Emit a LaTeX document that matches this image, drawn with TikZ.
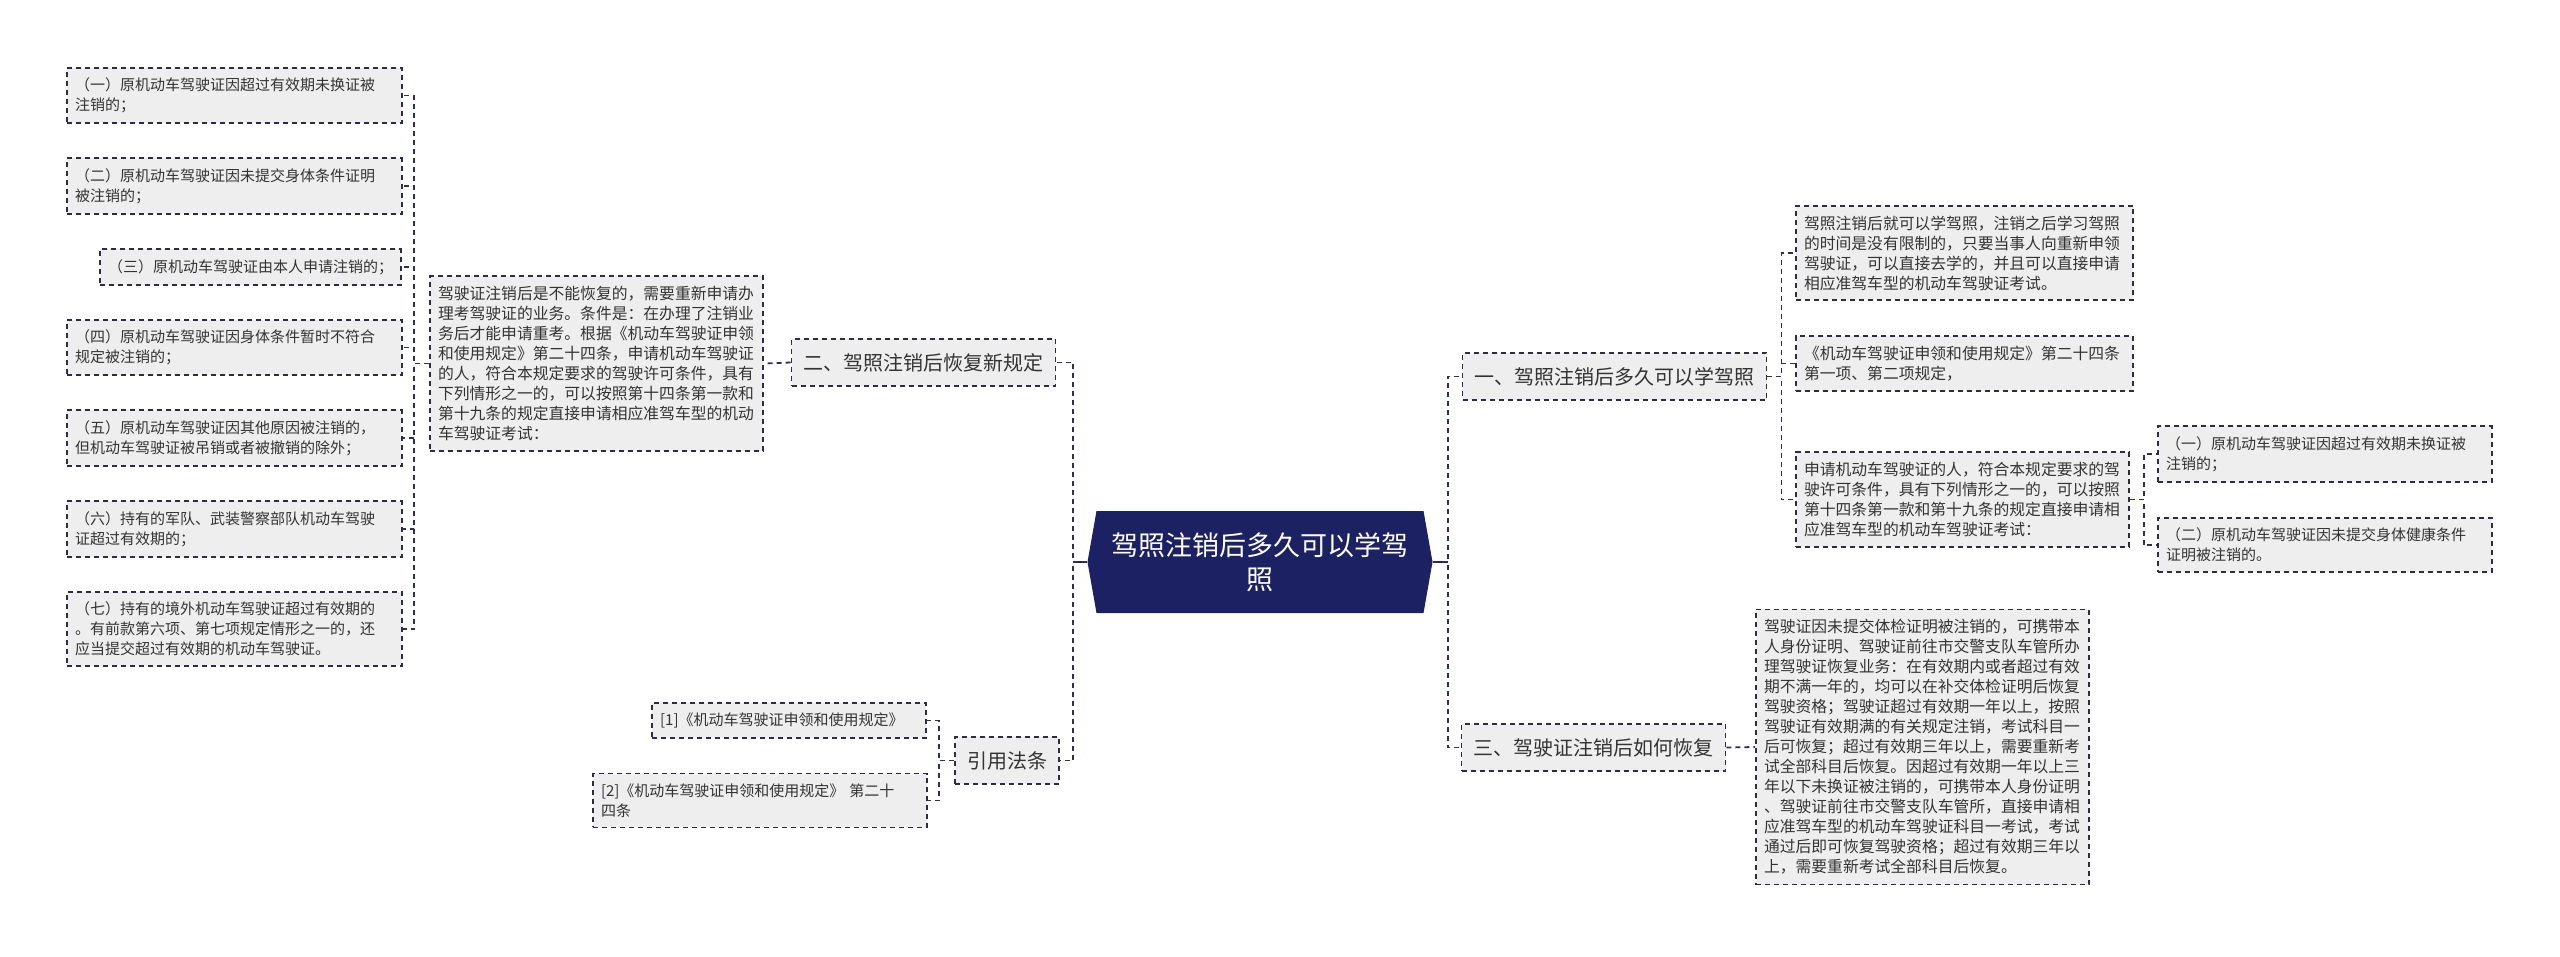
\documentclass[tikz,border=0pt]{standalone}
\usepackage{fontspec}
\setmainfont{Noto Sans CJK SC}
\usetikzlibrary{shapes.symbols}

\definecolor{rootblue}{HTML}{1B2162}
\definecolor{linkblue}{HTML}{2A2F5E}
\definecolor{boxline}{HTML}{2C2C48}
\definecolor{leafgray}{HTML}{EEEEEE}
\definecolor{inkgray}{HTML}{333333}

\tikzset{
Root/.style={signal, signal to=east and west, signal pointer angle=160, fill=rootblue, text=white,
        font=\fontsize{27}{34}\selectfont, align=center, inner sep=0pt, minimum width=345pt, minimum height=102pt},
Branch/.style={draw=boxline, fill=leafgray, dash pattern=on 5pt off 4pt, line width=1.8pt, text=inkgray,
        font=\fontsize{20}{24}\selectfont, inner xsep=12pt, minimum height=47pt},
Leaf/.style={draw=boxline, fill=leafgray, dash pattern=on 5pt off 4pt, line width=1.8pt, text=inkgray,
        font=\fontsize{15.8}{20}\selectfont, align=left, inner xsep=8pt, inner ysep=10pt},
LeafW/.style={Leaf, text width=#1},
Item/.style={Leaf, font=\fontsize{15}{20}\selectfont},
ItemW/.style={Item, text width=#1},
Link/.style={draw=linkblue, line width=1.8pt, dash pattern=on 5pt off 4pt},
Stem/.style={draw=rootblue, line width=1.8pt},
}

\begin{document}
\begin{tikzpicture}[x=1pt,y=-1pt]
	\useasboundingbox (0,0) rectangle (2560,956);
	% centre
	\node[Root] (root) at (1260,562) {驾照注销后多久可以学驾\\照};

	% left side
	\node[Branch] (b2) at (923.5,362.5) {二、驾照注销后恢复新规定};
	\node[LeafW=317pt] (d2) at (596.5,363.5) {驾驶证注销后是不能恢复的，需要重新申请办\\理考驾驶证的业务。条件是：在办理了注销业\\务后才能申请重考。根据《机动车驾驶证申领\\和使用规定》第二十四条，申请机动车驾驶证\\的人，符合本规定要求的驾驶许可条件，具有\\下列情形之一的，可以按照第十四条第一款和\\第十九条的规定直接申请相应准驾车型的机动\\车驾驶证考试：};
	\node[ItemW=319pt] (L1) at (234.5,95.5) {（一）原机动车驾驶证因超过有效期未换证被\\注销的；};
	\node[ItemW=319pt] (L2) at (234.5,186) {（二）原机动车驾驶证因未提交身体条件证明\\被注销的；};
	\node[Item, anchor=east] (L3) at (402,267) {（三）原机动车驾驶证由本人申请注销的；};
	\node[ItemW=319pt] (L4) at (234.5,347.5) {（四）原机动车驾驶证因身体条件暂时不符合\\规定被注销的；};
	\node[ItemW=319pt] (L5) at (234.5,438) {（五）原机动车驾驶证因其他原因被注销的，\\但机动车驾驶证被吊销或者被撤销的除外；};
	\node[ItemW=319pt] (L6) at (234.5,529) {（六）持有的军队、武装警察部队机动车驾驶\\证超过有效期的；};
	\node[ItemW=319pt] (L7) at (234.5,629) {（七）持有的境外机动车驾驶证超过有效期的\\。有前款第六项、第七项规定情形之一的，还\\应当提交超过有效期的机动车驾驶证。};

	\node[Branch] (cite) at (1007,760.5) {引用法条};
	\node[ItemW=258pt, anchor=east] (R1) at (927,720.5) {[1]《机动车驾驶证申领和使用规定》};
	\node[ItemW=318pt] (R2) at (760,800.5) {[2]《机动车驾驶证申领和使用规定》 第二十\\四条};

	% right side
	\node[Branch] (b1) at (1614.5,376.5) {一、驾照注销后多久可以学驾照};
	\node[LeafW=321pt] (c1a) at (1964.5,253) {驾照注销后就可以学驾照，注销之后学习驾照\\的时间是没有限制的，只要当事人向重新申领\\驾驶证，可以直接去学的，并且可以直接申请\\相应准驾车型的机动车驾驶证考试。};
	\node[LeafW=321pt] (c1b) at (1964.5,363.5) {《机动车驾驶证申领和使用规定》第二十四条\\第一项、第二项规定，};
	\node[LeafW=317pt] (c1c) at (1962.5,499.5) {申请机动车驾驶证的人，符合本规定要求的驾\\驶许可条件，具有下列情形之一的，可以按照\\第十四条第一款和第十九条的规定直接申请相\\应准驾车型的机动车驾驶证考试：};
	\node[ItemW=318pt] (c1c1) at (2325,454) {（一）原机动车驾驶证因超过有效期未换证被\\注销的；};
	\node[ItemW=318pt] (c1c2) at (2325,545) {（二）原机动车驾驶证因未提交身体健康条件\\证明被注销的。};

	\node[Branch] (b3) at (1593.5,747.5) {三、驾驶证注销后如何恢复};
	\node[LeafW=317pt] (c3a) at (1922.5,747) {驾驶证因未提交体检证明被注销的，可携带本\\人身份证明、驾驶证前往市交警支队车管所办\\理驾驶证恢复业务：在有效期内或者超过有效\\期不满一年的，均可以在补交体检证明后恢复\\驾驶资格；驾驶证超过有效期一年以上，按照\\驾驶证有效期满的有关规定注销，考试科目一\\后可恢复；超过有效期三年以上，需要重新考\\试全部科目后恢复。因超过有效期一年以上三\\年以下未换证被注销的，可携带本人身份证明\\、驾驶证前往市交警支队车管所，直接申请相\\应准驾车型的机动车驾驶证科目一考试，考试\\通过后即可恢复驾驶资格；超过有效期三年以\\上，需要重新考试全部科目后恢复。};

	% connectors
	\draw[Stem] (root.east) -- ++(15,0);
	\draw[Stem] (root.west) -- ++(-14,0);
	\foreach \b in {b1,b3}
		\draw[Link] (root.east) -- ++(15,0) |- (\b.west);
	\foreach \b in {b2,cite}
		\draw[Link] (root.west) -- ++(-14,0) |- (\b.east);
	\draw[Link] (b2.west) -- (d2.east);
	\foreach \i in {1,...,7}
		\draw[Link] (d2.west) -- ++(-15,0) |- (L\i.east);
	\foreach \i in {1,2}
		\draw[Link] (cite.west) -- ++(-15,0) |- (R\i.east);
	\foreach \c in {c1a,c1b,c1c}
		\draw[Link] (b1.east) -- ++(14,0) |- (\c.west);
	\foreach \c in {c1c1,c1c2}
		\draw[Link] (c1c.east) -- ++(14,0) |- (\c.west);
	\draw[Link] (b3.east) -- (c3a.west);
\end{tikzpicture}
\end{document}
